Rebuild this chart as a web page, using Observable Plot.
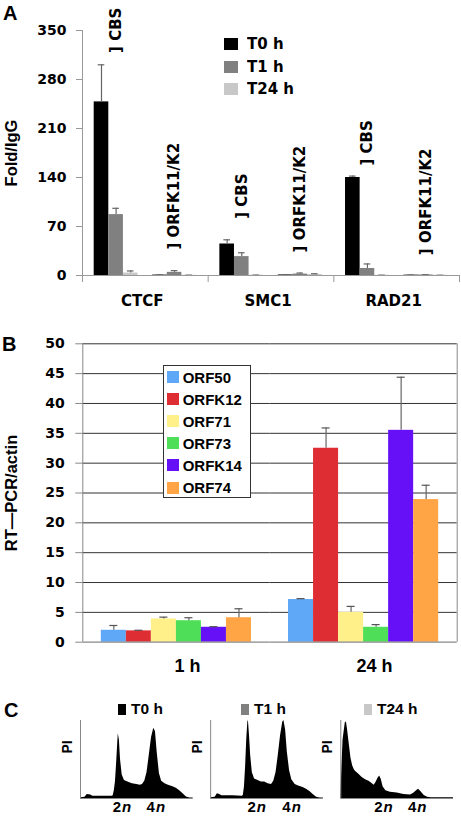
<!DOCTYPE html>
<html><head><meta charset="utf-8">
<script src="https://cdn.jsdelivr.net/npm/d3@7"></script>
<script src="https://cdn.jsdelivr.net/npm/@observablehq/plot@0.6"></script>
<style>
body{margin:0;background:#fff;}
#root{position:relative;width:461px;height:822px;overflow:hidden;background:#fff;}
.letter{position:absolute;font:bold 20px "Liberation Sans",Arial,sans-serif;color:#000;line-height:1;}
#root svg g[aria-label="y-axis label"] text{font-family:"Liberation Sans",Arial,sans-serif;font-size:16.5px;font-weight:bold;}
#legA .lga-swatches{margin:0;font:bold 15px "DejaVu Sans",sans-serif;color:#000;}
#legA .lga-swatch{height:22.5px;padding:0;}
#legA .lga-swatch > svg{margin-right:9px;}
#legB{box-sizing:border-box;width:88px;height:133px;border:1px solid #333;background:#fff;}
#legB .lgb-swatches{margin:0;padding:0 0 0 3px;font:bold 15px "Liberation Sans",Arial,sans-serif;color:#000;}
#legB .lgb-swatch{height:22.1px;padding:0;}
#legB .lgb-swatch > svg{margin-right:4px;}
#legC .lgc-swatches{margin:0;min-height:0;font:bold 15.5px "Liberation Sans Narrow","Liberation Sans",Arial,sans-serif;color:#000;flex-wrap:nowrap;}
#legC .lgc-swatch{width:123px;margin:0;}
#legC .lgc-swatch > svg{margin-right:5px;}
</style></head><body><div id="root"></div>
<script>
// ---------- Panel A data (ChIP) ----------
const chipGroups = ["CTCF", "SMC1", "RAD21"];
const chipSites = ["CBS", "ORFK11/K2"];
const chipSeries = ["T0 h", "T1 h", "T24 h"];
// order: CTCF-CBS, CTCF-ORFK11/K2, SMC1-CBS, SMC1-ORFK11/K2, RAD21-CBS, RAD21-ORFK11/K2
const chipT0 = [248, 0.6, 45, 0.8, 140, 0.5];
const chipT0Err = [53, 0.3, 6, 0.3, 2, 0.2];
const chipT1 = [87, 4.5, 27, 2, 10, 0.8];
const chipT1Err = [9, 2.5, 5.5, 1.5, 6.5, 0.3];
const chipT24 = [3.5, 0.3, 0.4, 1.5, 0.3, 0.3];
const chipT24Err = [3, 0.2, 0.2, 1, 0.2, 0.1];
const chipLabelAt = [318, 37, 81, 33, 157, 29];
const chipTicks = [0, 70, 140, 210, 280, 350];

// ---------- Panel B data (RT-PCR) ----------
const rtTimes = ["1 h", "24 h"];
const rtGenes = ["ORF50", "ORFK12", "ORF71", "ORF73", "ORFK14", "ORF74"];
const rt1h = [2.0, 1.9, 3.9, 3.6, 2.5, 4.1];
const rt1hErr = [0.8, 0.1, 0.3, 0.5, 0.1, 1.5];
const rt24h = [7.15, 32.5, 5.0, 2.5, 35.5, 23.9];
const rt24hErr = [0.15, 3.4, 1.0, 0.45, 8.9, 2.4];
const rtTicks = [0, 5, 10, 15, 20, 25, 30, 35, 40, 45, 50];
const rtColors = ["#5fa8f8", "#de2e33", "#fff08a", "#4ede57", "#6610f8", "#ffa545"];

// ---------- Panel C data (flow cytometry, PI) ----------
const flowSamples = ["T0 h", "T1 h", "T24 h"];
const t0Channel = [0,4,6,9,11,20,28,29,30,31,32,33,33.5,34.5,35.5,37,39,42,46,50,53,55,57,59,61,63,65,66.5,68,70,72,75,78,82,85,88,91,94,97,100];
const t0Count   = [1,1.5,5,4.5,3,3,3,3.5,10,21,44,70,83,75,50,30,23,21,19,18,17,18,22,33,55,78,90,86,60,32,22,19,17,15,13,10,6,2,0.5,0.5];
const t1Channel = [0,4,6,8,10,20,28,29,30,31,32,33,33.5,34.5,35.5,37,39,42,45,48,51,54,56,58,60,62,64,65,66.5,68,70,72,75,78,82,85,88,91,94,97,100];
const t1Count   = [1,1.5,6,5,3.5,3.5,3,4,15,40,75,98,100,80,55,33,25,23,21,21,19,18,22,33,55,80,98,100,88,60,36,24,18,16,14,12,9,5,1.5,0.5,0.5];
const t24Channel = [0,1,2,4,5,6,7.5,9,10.5,12,13,16,19,22,25,28,29.5,31,33,34.5,36,37.5,40,44,50,56,62,65,68,69,71,74,77,80,100];
const t24Count   = [2,40,75,97,98,88,70,52,42,37,35,31,27,24,22,19,17,20,26,29,24,15,10,8,7,5,4.5,7,11,12,9,4,1.5,1,1];
const ploidyCopies = ["2", "4"];
const ploidyAt = {"T0 h": [36, 66], "T1 h": [40, 71], "T24 h": [37, 67]};

// ---------- helpers ----------
const root = document.getElementById("root");
function place(el, top, left = 0, id) {
  const d = document.createElement("div");
  d.style.position = "absolute"; d.style.top = top + "px"; d.style.left = left + "px";
  if (id) d.id = id;
  d.appendChild(el); root.appendChild(d); return d;
}
function letter(t, top, left) {
  const d = document.createElement("div"); d.className = "letter"; d.textContent = t;
  d.style.top = top + "px"; d.style.left = left + "px"; root.appendChild(d);
}
const DJ = "DejaVu Sans, sans-serif";
const LS = "Liberation Sans, Arial, sans-serif";

// ---------- Panel A ----------
const chipVals = [chipT0, chipT1, chipT24], chipErrs = [chipT0Err, chipT1Err, chipT24Err];
const chipRows = [], siteLabels = [];
chipGroups.forEach((g, gi) => chipSites.forEach((s, si) => {
  const k = gi * chipSites.length + si;
  chipSeries.forEach((t, ti) => {
    const v = chipVals[ti][k];
    chipRows.push({group: g, site: s, series: t, slot: s + "|" + t, value: v, hi: v + chipErrs[ti][k]});
  });
  siteLabels.push({group: g, slot: s + "|" + chipSeries[1], y: chipLabelAt[k], text: "] " + s});
}));
const slotDomain = [...chipSeries.map(t => chipSites[0] + "|" + t), "gap", ...chipSeries.map(t => chipSites[1] + "|" + t)];
const WA = 461, HA = 315, mlA = 82, mrA = 2, mtA = 30, mbA = 40, poA = 0.8;
const stepA = (WA - mlA - mrA) / chipGroups.length / (slotDomain.length + 2 * poA);
const edgeA = (poA + 0.5) * stepA;
const plotA = Plot.plot({
  width: WA, height: HA, marginLeft: mlA, marginRight: mrA, marginTop: mtA, marginBottom: mbA,
  style: {fontFamily: DJ, fontWeight: "bold", fontSize: "14px", color: "#000", background: "transparent", overflow: "visible"},
  fx: {domain: chipGroups, padding: 0, round: false},
  x: {domain: slotDomain, paddingInner: 0, paddingOuter: poA, round: false, axis: null},
  y: {domain: [0, 350]},
  color: {domain: chipSeries, range: ["#000000", "#808080", "#c8c8c8"]},
  marks: [
    Plot.barY(chipRows, {fx: "group", x: "slot", y: "value", fill: "series"}),
    Plot.ruleX(chipRows, {fx: "group", x: "slot", y1: "value", y2: "hi", stroke: "#666", strokeWidth: 1.2}),
    Plot.tickY(chipRows, {fx: "group", x: "slot", y: "hi", stroke: "#666", strokeWidth: 1.2, insetLeft: 4, insetRight: 4}),
    Plot.ruleY([0], {stroke: "#999"}),
    Plot.ruleX(chipGroups.slice(0, 1), {fx: d => d, x: () => slotDomain[0], dx: -edgeA, insetBottom: -7, stroke: "#999"}),
    Plot.ruleX(chipGroups, {fx: d => d, x: () => slotDomain[0], dx: -edgeA, insetTop: HA - mtA - mbA, insetBottom: -7, stroke: "#999"}),
    Plot.ruleX(chipGroups.slice(-1), {fx: d => d, x: () => slotDomain[slotDomain.length - 1], dx: edgeA, insetTop: HA - mtA - mbA, insetBottom: -7, stroke: "#999"}),
    Plot.text(siteLabels, {fx: "group", x: "slot", y: "y", text: "text", rotate: -90, textAnchor: "start", fontSize: 15, fontFamily: DJ, fontWeight: "bold"}),
    Plot.axisY({ticks: chipTicks, tickSize: 6, tickPadding: 10, stroke: "#999", fill: "#000", fontSize: 14, fontFamily: DJ, fontWeight: "bold",
      label: "Fold/IgG", labelAnchor: "center", labelArrow: "none", labelOffset: 77}),
    Plot.axisFx({anchor: "bottom", tickSize: 0, tickPadding: 20, label: null, fontSize: 15, fontFamily: DJ, fontWeight: "bold", dx: -3})
  ]
});
place(plotA, 0, 0);
letter("A", 3, 3);
const legA = plotA.legend("color", {legend: "swatches", columns: 1, swatchWidth: 14, swatchHeight: 12, className: "lga"});
place(legA, 33, 224, "legA");

// ---------- Panel B ----------
const rtRows = [];
rtTimes.forEach((t, ti) => rtGenes.forEach((g, gi) => {
  const v = ti === 0 ? rt1h[gi] : rt24h[gi];
  const e = ti === 0 ? rt1hErr[gi] : rt24hErr[gi];
  rtRows.push({time: t, gene: g, value: v, hi: v + e});
}));
const WB = 461, HB = 360, mlB = 82.3, mrB = 4.3, mtB = 23.3, mbB = 38.3, poB = 0.74;
const stepB = (WB - mlB - mrB) / rtTimes.length / (rtGenes.length + 2 * poB);
const edgeB = (poB + 0.5) * stepB;
const plotB = Plot.plot({
  width: WB, height: HB, marginLeft: mlB, marginRight: mrB, marginTop: mtB, marginBottom: mbB,
  style: {fontFamily: DJ, fontWeight: "bold", fontSize: "14px", color: "#000", background: "transparent", overflow: "visible"},
  fx: {domain: rtTimes, padding: 0, round: false},
  x: {domain: rtGenes, paddingInner: 0, paddingOuter: poB, round: false, axis: null},
  y: {domain: [0, 50]},
  color: {domain: rtGenes, range: rtColors},
  marks: [
    Plot.gridY(rtTicks.slice(1), {stroke: "#333", strokeOpacity: 1, strokeWidth: 1}),
    Plot.barY(rtRows, {fx: "time", x: "gene", y: "value", fill: "gene"}),
    Plot.ruleX(rtRows, {fx: "time", x: "gene", y1: "value", y2: "hi", stroke: "#666", strokeWidth: 1.2}),
    Plot.tickY(rtRows, {fx: "time", x: "gene", y: "hi", stroke: "#555", strokeWidth: 1.2, insetLeft: 8.5, insetRight: 8.5}),
    Plot.ruleY([0], {stroke: "#888", strokeWidth: 1.2}),
    Plot.ruleX(rtTimes.slice(0, 1), {fx: d => d, x: () => rtGenes[0], dx: -edgeB, stroke: "#888"}),
    Plot.ruleX(rtTimes.slice(-1), {fx: d => d, x: () => rtGenes[rtGenes.length - 1], dx: edgeB, stroke: "#888"}),
    Plot.axisY({ticks: rtTicks, tickSize: 7, tickPadding: 11, stroke: "#888", fill: "#000", fontSize: 14, fontFamily: DJ, fontWeight: "bold",
      label: "RT\u2014PCR/actin", labelAnchor: "center", labelArrow: "none", labelOffset: 78}),
    Plot.axisFx({anchor: "bottom", tickSize: 0, tickPadding: 17, label: null, fontSize: 18, fontFamily: LS, fontWeight: "bold", dx: 11})
  ]
});
place(plotB, 320, 0);
letter("B", 334, 2);
const legB = plotB.legend("color", {legend: "swatches", columns: 1, swatchWidth: 12, swatchHeight: 12, className: "lgb"});
place(legB, 365, 162.7, "legB");

// ---------- Panel C ----------
const flowSets = {"T0 h": [t0Channel, t0Count], "T1 h": [t1Channel, t1Count], "T24 h": [t24Channel, t24Count]};
const flowRows = [], ploidyRows = [];
flowSamples.forEach(s => {
  const [ch, ct] = flowSets[s];
  ch.forEach((c, i) => flowRows.push({sample: s, channel: c, count: ct[i]}));
  ploidyCopies.forEach((p, i) => ploidyRows.push({sample: s, channel: ploidyAt[s][i], copies: p}));
});
const plotC = Plot.plot({
  width: 461, height: 132, marginLeft: 80, marginRight: 8, marginTop: 30, marginBottom: 24,
  style: {fontFamily: LS, fontWeight: "bold", fontSize: "14px", color: "#000", background: "transparent", overflow: "visible"},
  fx: {domain: flowSamples, paddingInner: 0.134, paddingOuter: 0, round: false, axis: null},
  x: {domain: [0, 100], axis: null},
  y: {domain: [0, 100], axis: null},
  marks: [
    Plot.areaY(flowRows, {fx: "sample", x: "channel", y: "count", fill: "#000", curve: "linear"}),
    Plot.ruleX([0], {stroke: "#888"}),
    Plot.ruleY([0], {stroke: "#888"}),
    Plot.text(["PI"], {frameAnchor: "left", dx: -13, dy: -6, rotate: -90, fontSize: 14, fontFamily: LS, fontWeight: "bold"}),
    Plot.text(ploidyRows, {fx: "sample", x: "channel", text: "copies", frameAnchor: "bottom", dy: 13, textAnchor: "end", fontSize: 15, fontFamily: LS, fontWeight: "bold"}),
    Plot.text(ploidyRows, {fx: "sample", x: "channel", text: () => "n", frameAnchor: "bottom", dy: 13, dx: 1, textAnchor: "start", fontSize: 15, fontFamily: LS, fontWeight: "bold", fontStyle: "italic"})
  ]
});
place(plotC, 690, 0);
letter("C", 700, 4);
const legC = plotA.legend("color", {legend: "swatches", swatchWidth: 8, swatchHeight: 11, className: "lgc"});
place(legC, 700, 118, "legC");
</script></body></html>
